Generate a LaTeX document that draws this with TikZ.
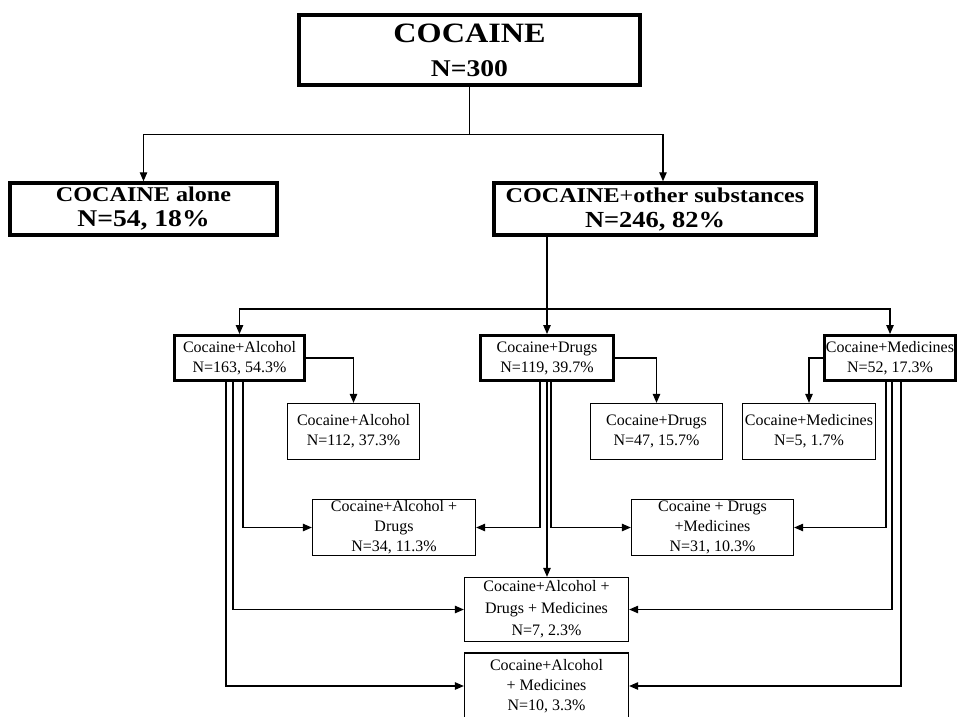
\documentclass[tikz,border=0pt]{standalone}
\usepackage{fontspec}
\setmainfont{Liberation Serif}
\newfontfamily\headfont[FakeStretch=1.15]{Liberation Serif}
\usetikzlibrary{arrows.meta,arrows}

\begin{document}
\begin{tikzpicture}[x=1pt,y=-1pt,>={Triangle[length=9pt,width=7.5pt]},
  headbox/.style={draw,line width=3.5pt,inner sep=0pt,align=center},
  groupbox/.style={draw,line width=3pt,inner sep=0pt,align=center,font=\fontsize{16}{20}\selectfont},
  leafbox/.style={draw,line width=1.3pt,inner sep=0pt,align=center,font=\fontsize{16}{20}\selectfont},
  link/.style={line width=1.1pt}]
\useasboundingbox[fill=white] (0,0) rectangle (958,717);
% first two levels
\node[headbox,minimum width=341pt,minimum height=70pt,font=\headfont\bfseries\fontsize{24}{34}\selectfont] (top) at (469.5,50)
  {\fontsize{28}{34}\selectfont COCAINE\\N=300};
\node[headbox,minimum width=267pt,minimum height=52pt,font=\headfont\bfseries\fontsize{21}{25}\selectfont] (alone) at (143.5,209)
  {COCAINE alone\\\fontsize{24}{25}\selectfont N=54, 18\%};
\node[headbox,minimum width=322pt,minimum height=52pt,font=\headfont\bfseries\fontsize{21}{25}\selectfont] (other) at (655,209)
  {COCAINE{\mdseries+}other substances\\\fontsize{23}{25}\selectfont N=246, 82\%};
% groups
\node[groupbox,minimum width=130pt,minimum height=45pt] (alc) at (239.5,358) {Cocaine+Alcohol\\N=163, 54.3\%};
\node[groupbox,minimum width=133pt,minimum height=45pt] (drg) at (547,358) {Cocaine+Drugs\\N=119, 39.7\%};
\node[groupbox,minimum width=131pt,minimum height=45pt] (med) at (890,358) {Cocaine+Medicines\\N=52, 17.3\%};
% single combinations
\node[leafbox,minimum width=132pt,minimum height=56pt] (a112) at (353.5,431.5) {Cocaine+Alcohol\\N=112, 37.3\%};
\node[leafbox,minimum width=132pt,minimum height=56pt] (d47) at (656.5,431.5) {Cocaine+Drugs\\N=47, 15.7\%};
\node[leafbox,minimum width=133pt,minimum height=56pt] (m5) at (809,431.5) {Cocaine+Medicines\\N=5, 1.7\%};
% mixed combinations
\node[leafbox,minimum width=163pt,minimum height=56pt] (ad) at (394,527.5) {Cocaine+Alcohol +\\Drugs\\N=34, 11.3\%};
\node[leafbox,minimum width=162pt,minimum height=56pt] (dm) at (712.5,527.5) {Cocaine + Drugs\\+Medicines\\N=31, 10.3\%};
\node[leafbox,minimum width=164pt,minimum height=64pt,font=\fontsize{16}{22}\selectfont] (adm) at (546.5,609.5) {Cocaine+Alcohol +\\Drugs + Medicines\\N=7, 2.3\%};
\node[leafbox,minimum width=164pt,minimum height=66pt] (am) at (546.5,686) {Cocaine+Alcohol\\+ Medicines\\N=10, 3.3\%};
% connectors
\draw[link,->] (top.south) -- ++(0,48) -| (alone.north);
\draw[link,->] (top.south) -- ++(0,48) -| ([xshift=8pt]other.north);
\draw[link,->] (other.south -| drg.north) -- (drg.north);
\draw[link,->] ([yshift=25pt]drg.north) -| (alc.north);
\draw[link,->] ([yshift=25pt]drg.north) -| (med.north);
\draw[link,->] (alc.east) -| (a112.north);
\draw[link,->] (drg.east) -| (d47.north);
\draw[link,->] (med.west) -| (m5.north);
\draw[link,->] ([xshift=3.5pt]alc.south) |- (ad.west);
\draw[link,->] ([xshift=-6.5pt]alc.south) |- (adm.west);
\draw[link,->] ([xshift=-13.5pt]alc.south) |- (am.west);
\draw[link,->] ([xshift=-7pt]drg.south) |- (ad.east);
\draw[link,->] ([xshift=4pt]drg.south) |- (dm.west);
\draw[link,->] (drg.south) -- (drg.south |- adm.north);
\draw[link,->] ([xshift=-4pt]med.south) |- (dm.east);
\draw[link,->] ([xshift=2pt]med.south) |- (adm.east);
\draw[link,->] ([xshift=11pt]med.south) |- (am.east);
\end{tikzpicture}
\end{document}
